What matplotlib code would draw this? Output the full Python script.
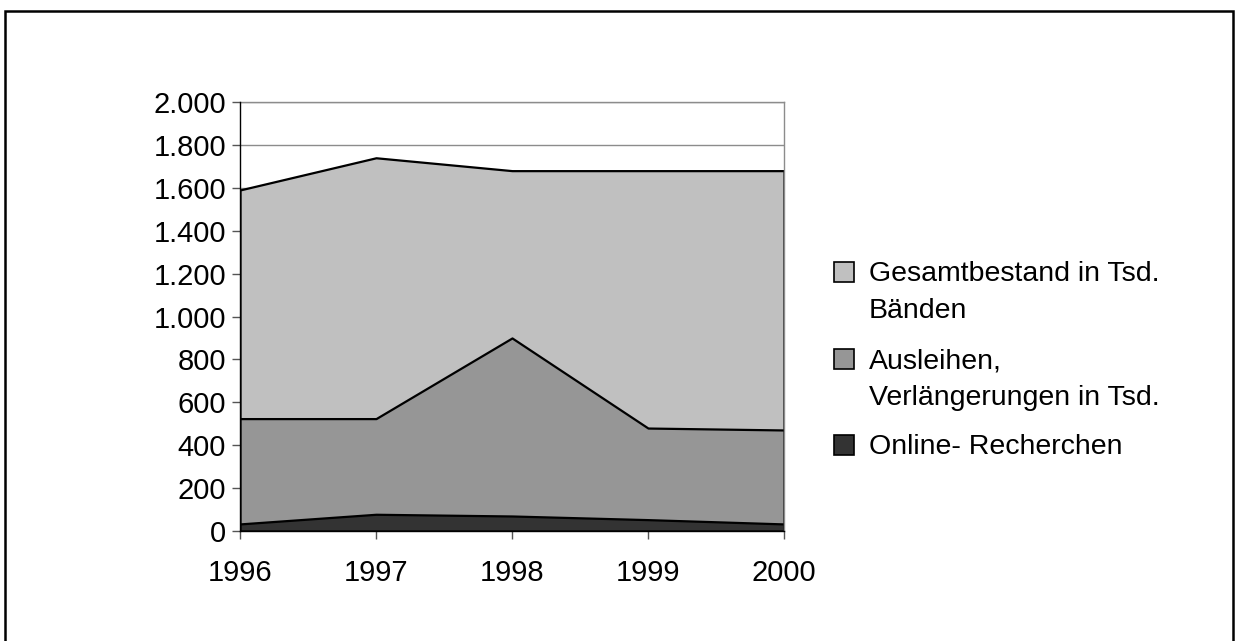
import matplotlib.pyplot as plt
import matplotlib.patches as mpatches
from matplotlib.ticker import FuncFormatter

years = [1996, 1997, 1998, 1999, 2000]
gesamtbestand = [1590, 1740, 1680, 1680, 1680]
ausleihen = [524, 524, 900, 480, 471]
online = [33, 78, 70, 53, 33]

labels = ["Gesamtbestand in Tsd.\nBänden",
          "Ausleihen,\nVerlängerungen in Tsd.",
          "Online- Recherchen"]
colors = ["#c0c0c0", "#969696", "#333333"]

W, H = 1239, 641
plt.rcParams["font.family"] = ["Liberation Sans", "DejaVu Sans"]

fig = plt.figure(figsize=(W / 100, H / 100), dpi=100)
ax = fig.add_axes([240 / W, 1 - 531 / H, 544 / W, 429 / H])

# overlapping areas, largest series in the back
for values, c in zip([gesamtbestand, ausleihen, online], colors):
    ax.fill_between(years, 0, values, facecolor=c, edgecolor="black",
                    linewidth=1.6, zorder=2)

ax.set_xlim(years[0], years[-1])
ax.set_ylim(0, 2000)
ax.set_xticks(years)
ax.set_yticks(range(0, 2001, 200))
ax.yaxis.set_major_formatter(
    FuncFormatter(lambda v, _: f"{int(v):,}".replace(",", ".")))
ax.grid(axis="y", color="#8c8c8c", linewidth=1.0, zorder=1)
ax.set_axisbelow(True)

for side in ("top", "right"):
    ax.spines[side].set_color("#8c8c8c")
    ax.spines[side].set_linewidth(1.0)
for side in ("left", "bottom"):
    ax.spines[side].set_color("black")
    ax.spines[side].set_linewidth(1.0)
    ax.spines[side].set_zorder(3)

ax.tick_params(axis="both", direction="out", length=6, width=1.0,
               color="#555555", labelsize=21)
ax.tick_params(axis="y", pad=4)
ax.tick_params(axis="x", pad=14)

# legend, drawn by hand so the swatch sits beside the first text line
leg_y = [272, 359, 445]
for lab, c, y in zip(labels, colors, leg_y):
    fig.patches.append(mpatches.Rectangle(
        (834 / W, 1 - (y + 10) / H), 20 / W, 20 / H,
        transform=fig.transFigure, facecolor=c, edgecolor="black",
        linewidth=1.2))
    fig.text(869 / W, 1 - (y - 11) / H, lab, fontsize=20.5, va="top",
             ha="left", linespacing=1.55)

# outer chart frame
fig.patches.append(mpatches.Rectangle(
    (5 / W, -0.05), 1228 / W, 1 - 11 / H + 0.05,
    transform=fig.transFigure, fill=False, edgecolor="black",
    linewidth=1.8))

fig.savefig("out.png", dpi=100)
